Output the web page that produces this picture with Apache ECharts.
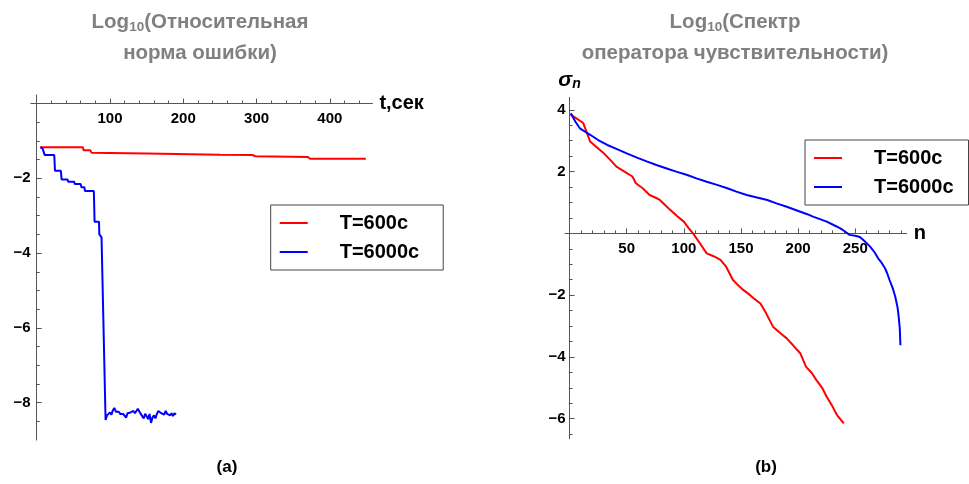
<!DOCTYPE html>
<html><head><meta charset="utf-8">
<script src="https://cdn.jsdelivr.net/npm/echarts@6/dist/echarts.min.js"></script>
<style>html,body{margin:0;padding:0;background:#fff}#c{width:969px;height:484px}</style>
</head><body><div id="c"></div>
<script>
// ---------- data ----------
const seriesNames = ['T=600c', 'T=6000c'];

// (a) Log10 relative error norm vs t, s
const errT600 = [[5,-1.17],[63,-1.17],[64,-1.25],[73,-1.25],[75,-1.32],[150,-1.34],[250,-1.37],[295,-1.38],[298,-1.41],[370,-1.43],[373,-1.48],[449,-1.48]];
const errT6000 = [[5,-1.17],[8,-1.2],[11,-1.38],[24,-1.38],[25,-1.80],[33,-1.80],[34,-2.03],[42,-2.03],[43,-2.09],[51,-2.09],[52,-2.15],[60,-2.15],[61,-2.24],[65,-2.24],[66,-2.34],[78,-2.34],[79,-3.16],[85,-3.16],[85.5,-3.50],[88,-3.50],[88.5,-3.58],[91,-3.58],[94,-8.46],
 [96,-8.34],[98,-8.30],[100,-8.26],[102,-8.32],[104,-8.20],[106,-8.14],[108,-8.24],[110,-8.28],[112,-8.24],[114,-8.30],[116,-8.26],[118,-8.30],[120,-8.27],[122,-8.40],[124,-8.28],[126,-8.32],[128,-8.26],[130,-8.30],[132,-8.22],[134,-8.28],[136,-8.24],[138,-8.16],[140,-8.20],[142,-8.30],[144,-8.34],[146,-8.42],[148,-8.30],[150,-8.36],[152,-8.44],[154,-8.30],[156,-8.54],[158,-8.40],[160,-8.34],[162,-8.42],[164,-8.30],[166,-8.22],[168,-8.18],[170,-8.28],[172,-8.24],[174,-8.32],[176,-8.22],[178,-8.30],[180,-8.26],[182,-8.34],[184,-8.28],[186,-8.36],[188,-8.28],[190,-8.32]];

// (b) Log10 spectrum of the sensitivity operator vs n
const specT600 = [[1,3.84],[6,3.72],[12,3.57],[18,2.97],[24,2.78],[30,2.59],[36,2.36],[41,2.16],[48,2.00],[55,1.84],[58,1.62],[64,1.46],[70,1.24],[75,1.16],[79,1.08],[84,0.90],[88,0.76],[94,0.56],[100,0.38],[104,0.18],[108,0.0],[114,-0.32],[120,-0.65],[126,-0.74],[132,-0.86],[137,-1.08],[143,-1.51],[148,-1.70],[152,-1.83],[158,-2.00],[161,-2.10],[167,-2.27],[172,-2.59],[178,-3.02],[184,-3.22],[190,-3.40],[196,-3.64],[202,-3.89],[207,-4.32],[212,-4.52],[216,-4.75],[221,-5.00],[225,-5.29],[230,-5.60],[234,-5.88],[240,-6.15]];
const specT6000 = [[1,3.89],[5,3.62],[9,3.40],[18,3.19],[25,3.02],[33,2.86],[42,2.72],[50,2.59],[59,2.45],[68,2.32],[76,2.21],[85,2.10],[94,1.99],[103,1.89],[111,1.78],[120,1.67],[129,1.57],[138,1.46],[146,1.35],[155,1.24],[164,1.16],[173,1.08],[181,0.97],[190,0.86],[196,0.78],[202,0.70],[208,0.62],[213,0.54],[219,0.46],[225,0.38],[231,0.27],[237,0.16],[241,0.06],[245,-0.05],[250,-0.08],[254,-0.12],[258,-0.25],[263,-0.43],[267,-0.62],[270,-0.81],[273,-0.95],[276,-1.13],[278,-1.30],[280,-1.51],[283,-1.80],[285,-2.05],[287,-2.40],[288,-2.70],[289,-3.10],[289.5,-3.62]];

// tick labels
const aXTicks = [100, 200, 300, 400];
const aXMinor = [20,40,60,80,120,140,160,180,220,240,260,280,320,340,360,380,420,440];
const aYTicks = [-8, -6, -4, -2];
const aYMinor = [-8.5,-7.5,-7,-6.5,-5.5,-5,-4.5,-3.5,-3,-2.5,-1.5,-1,-0.5];
const bXTicks = [50, 100, 150, 200, 250];
const bXMinor = [10,20,30,40,60,70,80,90,110,120,130,140,160,170,180,190,210,220,230,240,260,270,280,290];
const bYTicks = [-6, -4, -2, 2, 4];
const bYMinor = [-6.5,-5.5,-5,-4.5,-3.5,-3,-2.5,-1.5,-1,-0.5,0.5,1,1.5,2.5,3,3.5];

// ---------- chart ----------
const FONT = '"Liberation Sans", Arial, sans-serif';
const AX = '#555';
const minus = v => String(v).replace('-', '\u2212');

const gridA = {left: 30.8, top: 94.9, width: 341.6, height: 345.2};
const gridB = {left: 565.0, top: 97.4, width: 341.7, height: 341.4};
const rangeA = {xmin: -8, xmax: 458, ymin: -9, ymax: 0.23};
const rangeB = {xmin: -4, xmax: 295, ymin: -6.65, ymax: 4.4};

// x axis sits on y=0 (offset from top edge of grid), y axis on x=0 (offset from left edge)
function mkX(gi, r, off, ticks, major, name, nameStyle) {
  return {
    type: 'value', gridIndex: gi, min: r.xmin, max: r.xmax, position: 'top', offset: off,
    name: name || '', nameLocation: 'end', nameGap: 7, nameTextStyle: nameStyle,
    axisLine: {show: true, onZero: false, lineStyle: {color: AX, width: 1, opacity: major ? 1 : 0}},
    axisTick: {show: true, inside: false, length: major ? 5 : 3, customValues: ticks, lineStyle: {color: AX, width: 1}},
    axisLabel: {show: major, inside: true, customValues: ticks, formatter: minus, margin: 8, color: '#000', fontWeight: 'bold', fontSize: 15, fontFamily: FONT},
    splitLine: {show: false}
  };
}
function mkY(gi, r, off, ticks, major, margin, name, nameStyle) {
  return {
    type: 'value', gridIndex: gi, min: r.ymin, max: r.ymax, position: 'left', offset: off,
    name: name || '', nameLocation: 'end', nameGap: 6, nameTextStyle: nameStyle,
    axisLine: {show: true, onZero: false, lineStyle: {color: AX, width: 1, opacity: major ? 1 : 0}},
    axisTick: {show: true, inside: true, length: major ? 5 : 3, customValues: ticks, lineStyle: {color: AX, width: 1}},
    axisLabel: {show: major, customValues: ticks, formatter: minus, margin: margin, color: '#000', fontWeight: 'bold', fontSize: 15, fontFamily: FONT},
    splitLine: {show: false}
  };
}

const nameBold = {color: '#000', fontWeight: 'bold', fontSize: 20, fontFamily: FONT};
const sigmaName = {
  color: '#000', fontFamily: FONT,
  rich: {
    s: {fontSize: 21, fontWeight: 'bold', fontStyle: 'italic', color: '#000', fontFamily: FONT},
    n: {fontSize: 14, fontWeight: 'bold', fontStyle: 'italic', color: '#000', fontFamily: FONT, padding: [9, 0, 0, 0]}
  }
};

function line(name, data, xi, yi, color) {
  return {
    type: 'line', name: name, data: data, xAxisIndex: xi, yAxisIndex: yi,
    symbol: 'none', showSymbol: false, smooth: false, clip: true,
    lineStyle: {color: color, width: 2}, itemStyle: {color: color},
    emphasis: {disabled: true}, animation: false
  };
}

function legendAt(left, top, padRight) {
  return {
    orient: 'vertical', left: left, top: top, data: seriesNames,
    icon: 'rect', itemWidth: 28, itemHeight: 2, itemGap: 9,
    padding: [8, padRight, 8, 9],
    borderColor: '#444', borderWidth: 1, borderRadius: 0, backgroundColor: '#fff',
    selectedMode: false,
    textStyle: {color: '#000', fontWeight: 'bold', fontSize: 20, fontFamily: FONT, padding: [0, 0, 0, 27]}
  };
}

function titleLine(x, y, text, rich) {
  const base = {fontSize: 20.5, fontWeight: 'bold', fontFamily: FONT, fill: '#808080'};
  return {
    type: 'text', x: x, y: y, silent: true,
    style: Object.assign({text: text, align: 'center', verticalAlign: 'middle'}, base, rich ? {rich: {
      a: Object.assign({}, base),
      s: Object.assign({}, base, {fontSize: 13.5, padding: [10, 0, 0, 0]})
    }} : {})
  };
}

const chart = echarts.init(document.getElementById('c'), null, {renderer: 'canvas'});
chart.setOption({
  backgroundColor: '#fff',
  animation: false,
  grid: [
    Object.assign({outerBoundsMode: 'none', containLabel: false}, gridA),
    Object.assign({outerBoundsMode: 'none', containLabel: false}, gridA),
    Object.assign({outerBoundsMode: 'none', containLabel: false}, gridB),
    Object.assign({outerBoundsMode: 'none', containLabel: false}, gridB)
  ],
  xAxis: [
    mkX(0, rangeA, -8.6, aXTicks, true, 't,сек', nameBold),
    mkX(1, rangeA, -8.6, aXMinor, false),
    mkX(2, rangeB, -136.0, bXTicks, true, 'n', nameBold),
    mkX(3, rangeB, -136.0, bXMinor, false)
  ],
  yAxis: [
    mkY(0, rangeA, -5.9, aYTicks, true, 6),
    mkY(1, rangeA, -5.9, aYMinor, false, 6),
    mkY(2, rangeB, -4.6, bYTicks, true, 4, '{s|σ}{n|n}', sigmaName),
    mkY(3, rangeB, -4.6, bYMinor, false, 4)
  ],
  legend: [legendAt(270.7, 205, 24), legendAt(805, 140, 15)],
  series: [
    line(seriesNames[0], errT600, 0, 0, '#ff0000'),
    line(seriesNames[1], errT6000, 0, 0, '#0000ff'),
    line(seriesNames[0], specT600, 2, 2, '#ff0000'),
    line(seriesNames[1], specT6000, 2, 2, '#0000ff')
  ],
  graphic: [
    titleLine(200, 22, '{a|Log}{s|10}{a|(Относительная}', true),
    titleLine(200, 53, 'норма ошибки)'),
    titleLine(735, 22, '{a|Log}{s|10}{a|(Спектр}', true),
    titleLine(735, 53, 'оператора чувствительности)'),
    {type: 'text', x: 227, y: 467, silent: true, style: {text: '(a)', align: 'center', verticalAlign: 'middle', fontSize: 17, fontWeight: 'bold', fontFamily: '"Liberation Sans Narrow", ' + FONT, fill: '#000'}},
    {type: 'text', x: 766, y: 467, silent: true, style: {text: '(b)', align: 'center', verticalAlign: 'middle', fontSize: 17, fontWeight: 'bold', fontFamily: '"Liberation Sans Narrow", ' + FONT, fill: '#000'}}
  ]
});
</script>
</body></html>
